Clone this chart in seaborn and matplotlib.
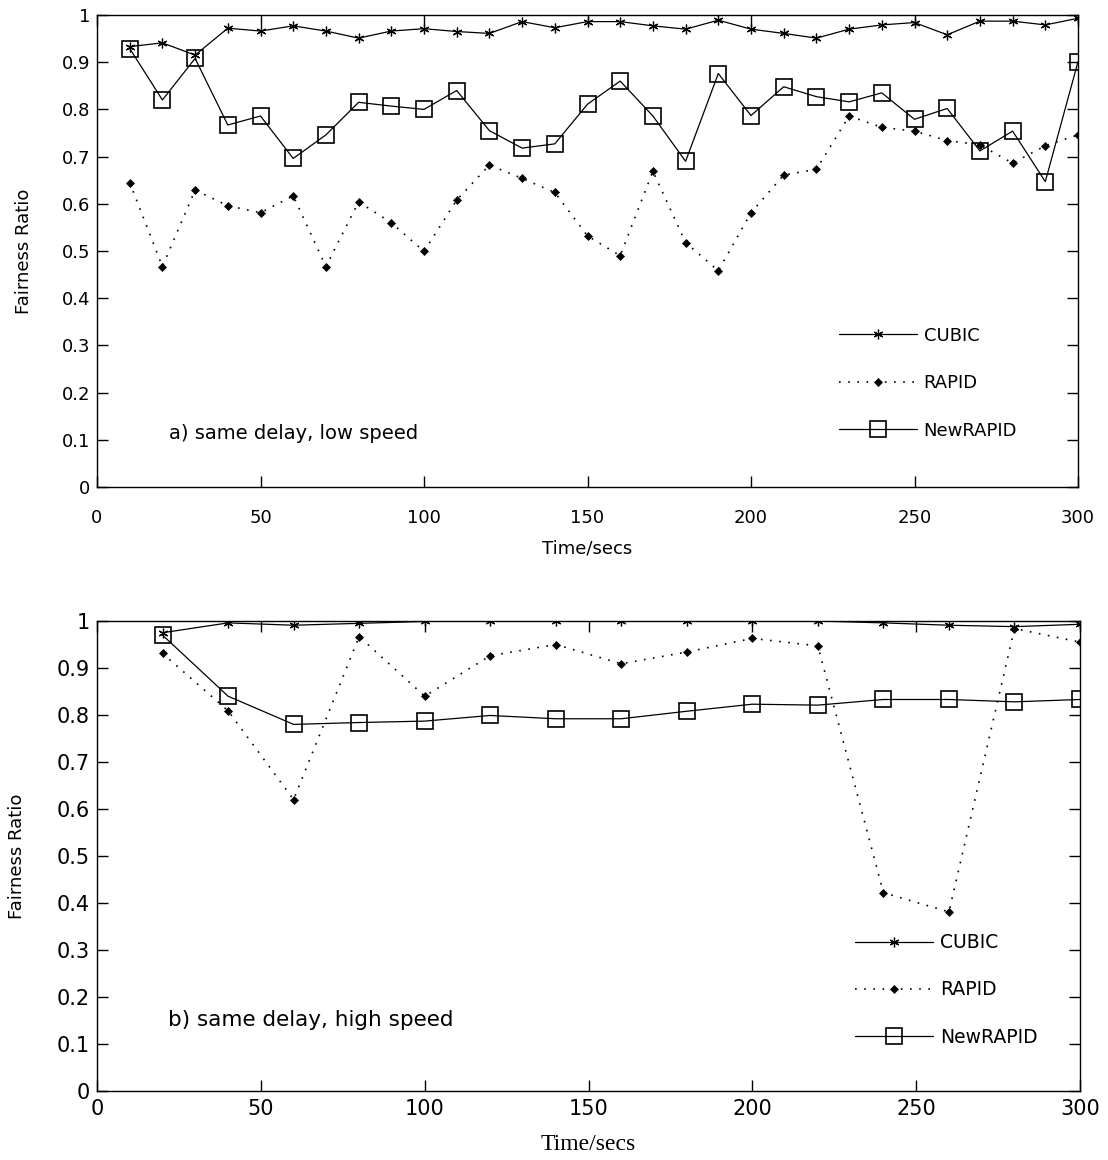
import matplotlib
matplotlib.use("Agg")
import matplotlib.pyplot as plt
import seaborn as sns

# ---------------- data ----------------
time_a = [10, 20, 30, 40, 50, 60, 70, 80, 90, 100, 110, 120, 130, 140, 150,
          160, 170, 180, 190, 200, 210, 220, 230, 240, 250, 260, 270, 280, 290, 300]
cubic_a = [0.933, 0.941, 0.915, 0.972, 0.966, 0.977, 0.966, 0.951, 0.966, 0.971,
           0.965, 0.961, 0.986, 0.973, 0.986, 0.986, 0.977, 0.970, 0.989, 0.970,
           0.961, 0.951, 0.970, 0.979, 0.984, 0.958, 0.987, 0.987, 0.979, 0.993]
rapid_a = [0.645, 0.467, 0.629, 0.596, 0.581, 0.617, 0.467, 0.604, 0.560, 0.499,
           0.608, 0.682, 0.654, 0.624, 0.532, 0.490, 0.669, 0.518, 0.458, 0.581,
           0.661, 0.673, 0.786, 0.762, 0.754, 0.734, 0.725, 0.686, 0.723, 0.746]
newrapid_a = [0.929, 0.820, 0.908, 0.767, 0.786, 0.696, 0.746, 0.815, 0.807, 0.800,
              0.840, 0.755, 0.718, 0.727, 0.811, 0.860, 0.786, 0.690, 0.876, 0.787,
              0.848, 0.827, 0.816, 0.835, 0.779, 0.802, 0.712, 0.754, 0.647, 0.901]

time_b = [20, 40, 60, 80, 100, 120, 140, 160, 180, 200, 220, 240, 260, 280, 300]
cubic_b = [0.975, 0.996, 0.991, 0.995, 0.999, 1.0, 1.0, 1.0, 1.0, 1.0,
           1.0, 0.996, 0.991, 0.988, 0.993]
rapid_b = [0.931, 0.809, 0.620, 0.967, 0.840, 0.926, 0.950, 0.909, 0.934, 0.963,
           0.947, 0.422, 0.381, 0.984, 0.955]
newrapid_b = [0.970, 0.840, 0.780, 0.784, 0.787, 0.799, 0.792, 0.792, 0.808, 0.823,
              0.821, 0.833, 0.833, 0.828, 0.833]

series_names = ["CUBIC", "RAPID", "NewRAPID"]
x_ticks = [0, 50, 100, 150, 200, 250, 300]
y_ticks = [0, 0.1, 0.2, 0.3, 0.4, 0.5, 0.6, 0.7, 0.8, 0.9, 1]
y_tick_labels = ["0", "0.1", "0.2", "0.3", "0.4", "0.5", "0.6", "0.7", "0.8", "0.9", "1"]
title_a = "a) same delay, low speed"
title_b = "b) same delay, high speed"
xlabel = "Time/secs"
ylabel = "Fairness Ratio"

# ---------------- style ----------------
sns.set_style("white")
plt.rcParams["font.family"] = ["DejaVu Sans"]
plt.rcParams["axes.edgecolor"] = "black"
plt.rcParams["axes.linewidth"] = 1.0
plt.rcParams["text.color"] = "black"
plt.rcParams["axes.labelcolor"] = "black"
plt.rcParams["xtick.color"] = "black"
plt.rcParams["ytick.color"] = "black"

W, H = 1108, 1160
fig = plt.figure(figsize=(W / 100, H / 100), dpi=100)

def frac_axes(left, top, right, bottom):
    return fig.add_axes([left / W, 1 - bottom / H, (right - left) / W, (bottom - top) / H])

ax1 = frac_axes(97, 15, 1078, 487)
ax2 = frac_axes(97, 621, 1080, 1091)

styles = {
    "CUBIC": dict(marker=(6, 2, 0), markersize=7, markeredgewidth=0.9,
                  markeredgecolor="black", markerfacecolor="black",
                  linestyle="-", linewidth=0.9, color="black"),
    "RAPID": dict(marker="D", markersize=4.5, markerfacecolor="black", markeredgecolor="black",
                  markeredgewidth=0.5, linestyle=(0, (1, 4.5)), linewidth=1.2, color="black"),
    "NewRAPID": dict(marker="s", markersize=11.5, markerfacecolor="none", markeredgecolor="black",
                     markeredgewidth=1.2, linestyle="-", linewidth=0.9, color="black"),
}

def draw(ax, t, cub, rap, nr, tick_size, xpad, label_font, label_size, xlabel_y, ylabel_x,
         title, title_xy, title_size, leg_anchor, leg_size, leg_space, leg_hl):
    for name, vals in zip(series_names, [cub, rap, nr]):
        sns.lineplot(x=t, y=vals, ax=ax, label=name, **styles[name])
    ax.set_xlim(0, 300)
    ax.set_ylim(0, 1)
    ax.set_xticks(x_ticks)
    ax.set_yticks(y_ticks)
    ax.set_yticklabels(y_tick_labels)
    ax.tick_params(direction="in", length=8, width=1, top=True, right=True,
                   left=True, bottom=True, labelsize=tick_size, colors="black",
                   labelcolor="black")
    ax.tick_params(axis="x", pad=xpad)
    ax.tick_params(axis="y", pad=5)
    ax.set_xlabel(xlabel, family=label_font, fontsize=label_size, color="black")
    ax.xaxis.set_label_coords(0.5, xlabel_y)
    ax.set_ylabel(ylabel, family="DejaVu Sans", fontsize=13, color="black")
    ax.yaxis.set_label_coords(ylabel_x, 0.5)
    ax.text(title_xy[0], title_xy[1], title, fontsize=title_size,
            va="center", ha="left", color="black")
    leg = ax.legend(loc="center left", bbox_to_anchor=leg_anchor, frameon=False,
                    handlelength=leg_hl, labelspacing=leg_space, borderpad=0, borderaxespad=0,
                    handletextpad=0.38, prop={"family": "DejaVu Sans", "size": leg_size})
    for txt in leg.get_texts():
        txt.set_color("black")
    for sp in ax.spines.values():
        sp.set_visible(True)
        sp.set_color("black")

draw(ax1, time_a, cubic_a, rapid_a, newrapid_a, 13, 16, "DejaVu Sans", 13, -0.112, -0.065,
     title_a, (22, 0.114), 14, (0.756, 0.22), 13, 1.64, 4.33)
draw(ax2, time_b, cubic_b, rapid_b, newrapid_b, 15, 6, "Liberation Serif", 17, -0.0915, -0.072,
     title_b, (21.7, 0.151), 15.5, (0.771, 0.215), 13.5, 1.51, 4.16)

fig.savefig("out.png", dpi=100, facecolor="white")
